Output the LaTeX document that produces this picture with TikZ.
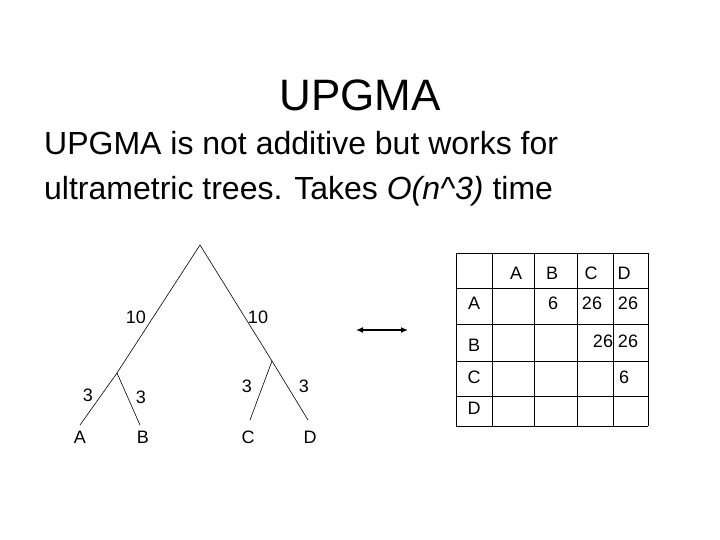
\documentclass[tikz,border=0pt]{standalone}
\usepackage{fontspec}
\setmainfont{Liberation Sans}
\usetikzlibrary{arrows.meta}
\begin{document}
\begin{tikzpicture}[x=1pt,y=-1pt,
  lbl/.style={font=\fontsize{18}{20}\selectfont,inner sep=0pt},
  edge/.style={line width=0.6pt},
  grid/.style={line width=0.5pt}]
\useasboundingbox[fill=white] (0,0) rectangle (720,540);
\node[font=\fontsize{44}{50}\selectfont] (title) at (360,95) {UPGMA};
\node[font=\fontsize{32}{45}\selectfont,anchor=base west,inner sep=0pt] (body1) at (44,155)
  {UPGMA is not additive but works for};
\node[font=\fontsize{32}{45}\selectfont,anchor=base west,inner sep=0pt] (body2) at (44,200)
  {ultrametric trees. Takes \textit{O(n\^{}3)} time};
% tree
\coordinate (r) at (200,245);
\coordinate (l) at (117,373);
\coordinate (rr) at (272,361);
\coordinate (a) at (80,425);
\coordinate (b) at (140,425);
\coordinate (c) at (250,420);
\coordinate (d) at (308,420);
\draw[edge] (r) -- (l) (r) -- (rr) (l) -- (a) (l) -- (b) (rr) -- (c) (rr) -- (d);
\node[lbl] (e1) at (136,317) {10};
\node[lbl] (e2) at (258,317) {10};
\node[lbl] (e3) at (88,395) {3};
\node[lbl] (e4) at (141,397) {3};
\node[lbl] (e5) at (247,386) {3};
\node[lbl] (e6) at (304,386) {3};
\node[lbl] (la) at (80,437) {A};
\node[lbl] (lb) at (143,437) {B};
\node[lbl] (lc) at (248,437) {C};
\node[lbl] (ld) at (310,437) {D};
\coordinate (p1) at (356,330);
\coordinate (p2) at (408,330);
\draw[line width=1.6pt,{Latex[length=7pt,width=6pt]}-{Latex[length=7pt,width=6pt]}] (p1) -- (p2);
% table
\foreach \x in {456,492,534,577,613,648} \draw[grid] (\x,253) -- (\x,426);
\foreach \y in {253,288,324,361,396,426} \draw[grid] (456,\y) -- (648,\y);
\node[lbl] (hA) at (516,273) {A};
\node[lbl] (hB) at (552,273) {B};
\node[lbl] (hC) at (591,273) {C};
\node[lbl] (hD) at (624,273) {D};
\node[lbl] (rA) at (474,303) {A};
\node[lbl] (rB) at (474,345) {B};
\node[lbl] (rC) at (474,377) {C};
\node[lbl] (rD) at (474,408) {D};
\node[lbl] (v1) at (553,303) {6};
\node[lbl] (v2) at (592,303) {26};
\node[lbl] (v3) at (628,303) {26};
\node[lbl] (v4) at (603,341) {26};
\node[lbl] (v5) at (628,341) {26};
\node[lbl] (v6) at (624,377) {6};
\end{tikzpicture}
\end{document}
